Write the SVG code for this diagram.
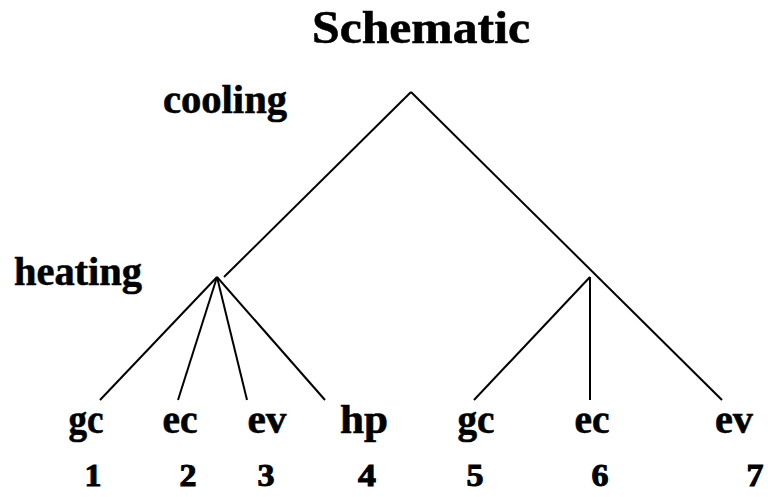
<svg xmlns="http://www.w3.org/2000/svg" width="768" height="497" viewBox="0 0 768 497">
<style>
text{font-family:"Liberation Serif","Times New Roman",serif;font-weight:bold;fill:#000;stroke:#000;stroke-width:0.6;text-anchor:middle}
.t{font-size:47px}
.h{font-size:40px;text-anchor:start}
.l{font-size:40px}
.n{font-size:31px;stroke-width:1}
line{stroke:#000;stroke-width:2;fill:none}
</style>
<rect width="768" height="497" fill="#fff"/>
<text class="t" x="421" y="43" textLength="218" lengthAdjust="spacingAndGlyphs">Schematic</text>
<text class="h" x="163" y="113" textLength="124" lengthAdjust="spacingAndGlyphs">cooling</text>
<text class="h" x="14" y="285" textLength="128" lengthAdjust="spacingAndGlyphs">heating</text>
<g id="connectors">
<line x1="411" y1="92" x2="224" y2="277"/>
<line x1="411" y1="92" x2="722" y2="400"/>
<line x1="217" y1="277" x2="100" y2="400"/>
<line x1="217" y1="277" x2="178" y2="400"/>
<line x1="217" y1="277" x2="247" y2="400"/>
<line x1="217" y1="277" x2="325" y2="400"/>
<line x1="590" y1="277" x2="474" y2="400"/>
<line x1="590" y1="277" x2="590" y2="400"/>
</g>
<g id="n1"><text class="l" x="86" y="433" textLength="35" lengthAdjust="spacingAndGlyphs">gc</text><text class="n" x="93" y="486" textLength="17" lengthAdjust="spacingAndGlyphs">1</text></g>
<g id="n2"><text class="l" x="180" y="433" textLength="35" lengthAdjust="spacingAndGlyphs">ec</text><text class="n" x="188" y="486" textLength="17" lengthAdjust="spacingAndGlyphs">2</text></g>
<g id="n3"><text class="l" x="267" y="433" textLength="39" lengthAdjust="spacingAndGlyphs">ev</text><text class="n" x="266" y="486" textLength="17" lengthAdjust="spacingAndGlyphs">3</text></g>
<g id="n4"><text class="l" x="364" y="433" textLength="48" lengthAdjust="spacingAndGlyphs">hp</text><text class="n" x="367" y="486" textLength="18" lengthAdjust="spacingAndGlyphs">4</text></g>
<g id="n5"><text class="l" x="476" y="433" textLength="37" lengthAdjust="spacingAndGlyphs">gc</text><text class="n" x="475" y="486" textLength="17" lengthAdjust="spacingAndGlyphs">5</text></g>
<g id="n6"><text class="l" x="592" y="433" textLength="35" lengthAdjust="spacingAndGlyphs">ec</text><text class="n" x="600" y="486" textLength="17" lengthAdjust="spacingAndGlyphs">6</text></g>
<g id="n7"><text class="l" x="734" y="433" textLength="38" lengthAdjust="spacingAndGlyphs">ev</text><text class="n" x="755" y="486" textLength="17" lengthAdjust="spacingAndGlyphs">7</text></g>
</svg>
